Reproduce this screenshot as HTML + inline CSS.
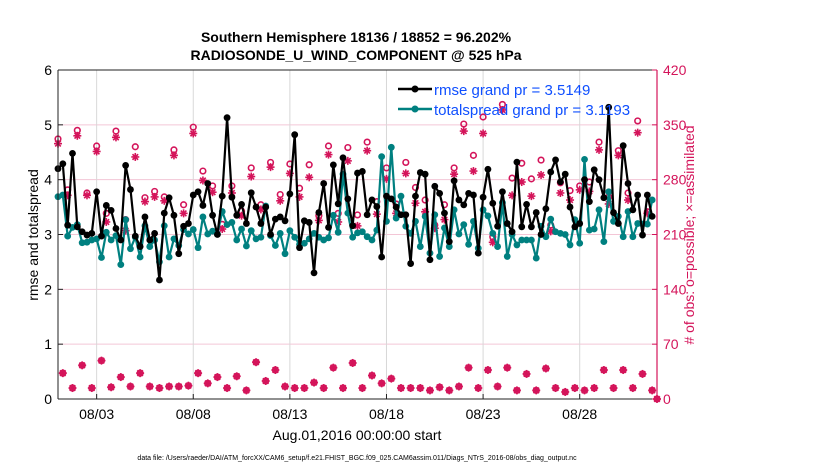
<!DOCTYPE html>
<html><head><meta charset="utf-8"><style>
body{margin:0;background:#fff;}
svg{display:block;font-family:"Liberation Sans",sans-serif;}
</style></head><body>
<svg id="chart" width="830" height="470" xmlns="http://www.w3.org/2000/svg">
<g id="grid"></g>
<g id="marks"></g>
<g id="axes"></g>
<text x="356" y="42" text-anchor="middle" font-size="14" font-weight="bold">Southern Hemisphere 18136 / 18852 = 96.202%</text>
<text x="356" y="60" text-anchor="middle" font-size="14" font-weight="bold">RADIOSONDE_U_WIND_COMPONENT @ 525 hPa</text>
<text x="357" y="440" text-anchor="middle" font-size="14">Aug.01,2016 00:00:00 start</text>
<text transform="translate(38,235) rotate(-90)" text-anchor="middle" font-size="14">rmse and totalspread</text>
<text transform="translate(694,235) rotate(-90)" text-anchor="middle" font-size="14" fill="#d4145a"># of obs: o=possible; ×=assimilated</text>
<text x="357" y="460" text-anchor="middle" font-size="7">data file: /Users/raeder/DAI/ATM_forcXX/CAM6_setup/f.e21.FHIST_BGC.f09_025.CAM6assim.011/Diags_NTrS_2016-08/obs_diag_output.nc</text>
<g>
<line x1="398" y1="89" x2="432" y2="89" stroke="#000" stroke-width="2.5"/><circle cx="415" cy="89" r="3.5" fill="#000"/>
<text x="434" y="95" font-size="15" fill="#0f4fff">rmse grand pr = 3.5149</text>
<line x1="398" y1="109" x2="432" y2="109" stroke="#008080" stroke-width="2.5"/><circle cx="415" cy="109" r="3.5" fill="#008080"/>
<text x="434" y="115" font-size="15" fill="#0f4fff">totalspread grand pr = 3.1193</text>
</g>
</svg>
<script>
const rmse=[4.20,4.29,3.17,4.48,3.14,3.05,2.99,3.02,3.78,2.97,3.53,3.44,3.11,2.90,4.26,3.82,2.97,2.78,3.32,2.90,3.02,2.17,3.39,3.67,3.35,2.65,3.15,3.20,3.72,3.78,3.53,3.93,
3.35,3.00,3.70,5.13,3.68,3.35,3.55,3.20,3.76,3.50,3.20,3.50,3.00,3.28,3.32,3.25,3.74,4.82,2.76,3.25,3.22,2.30,3.40,3.93,3.13,4.27,3.56,4.40,3.65,3.16,4.12,
4.15,3.36,3.63,3.51,2.59,3.70,3.65,3.50,3.36,3.36,2.47,3.70,4.13,4.10,2.54,3.88,3.75,3.39,2.87,3.98,3.63,3.54,3.75,3.72,2.66,3.68,4.19,3.57,3.15,3.78,
3.20,3.05,4.32,3.14,3.55,3.14,3.40,3.00,3.47,4.14,4.36,3.96,4.10,3.50,3.14,3.20,4.00,3.60,4.18,4.00,3.67,5.32,3.40,3.20,4.62,3.93,3.45,3.72,2.99,3.72,3.33];
const spread=[3.69,3.72,2.97,3.13,3.18,2.85,2.86,2.9,2.92,2.58,3.04,2.9,2.98,2.45,3.27,2.74,2.95,2.59,3.16,2.78,2.9,2.5,3.16,2.59,2.92,2.8,3.09,3.01,3.09,2.76,3.32,3.01,3.06,3.01,3.42,3.18,3.22,2.9,3.1,2.79,3.07,2.92,2.95,3.52,2.98,2.8,3.02,2.65,3.07,2.95,2.82,2.84,2.92,3.02,2.95,2.9,2.94,3.35,3.04,4.1,3.39,2.95,3.03,
3.05,2.96,2.90,3.08,4.42,3.24,4.59,3.30,3.70,3.15,3.02,3.24,2.78,3.33,2.66,3.36,2.60,3.12,2.78,3.45,3.01,3.18,2.82,3.24,2.75,3.45,3.34,3.02,2.78,3.58,2.60,3.00,2.81,2.90,2.90,2.90,2.57,3.15,2.96,3.28,3.05,3.02,3.00,2.81,3.27,2.84,4.37,3.08,3.10,3.45,2.87,3.78,3.24,3.33,2.96,3.42,2.96,3.20,3.19,3.19,3.63];
const obsPossible=[332,33,267,14,343,43,263,14,323,49,237,15,342,28,229,16,322,33,257,16,265,14,258,16,318,16,248,17,347,33,291,20,272,28,223,14,272,29,240,11,295,47,248,23,302,37,261,16,300,14,269,14,299,21,234,14,323,40,237,14,321,46,235,14,
328,30,252,20,295,26,249,14,302,14,270,14,254,11,222,15,248,11,295,16,351,40,311,14,360,37,207,16,376,40,282,11,301,32,281,11,305,39,222,14,276,9,266,14,272,11,277,14,328,37,258,14,317,37,263,14,355,32,239,11,0];
const obsAssim=[326,33,260,14,336,43,260,14,316,49,226,15,334,28,215,16,309,33,252,16,258,14,253,16,311,16,237,17,339,33,279,20,264,28,217,14,263,29,234,11,284,47,242,23,296,37,253,16,288,14,258,14,283,21,228,14,312,40,226,14,304,46,221,14,
317,30,236,20,281,26,237,14,288,14,250,14,239,11,218,15,229,11,287,16,342,40,291,14,339,37,200,16,369,40,260,11,277,32,259,11,286,39,214,14,263,9,254,14,267,11,265,14,318,37,249,14,311,37,254,14,340,32,237,11,0];
const leftTicks=[0,1,2,3,4,5,6];
const rightTicks=[0,70,140,210,280,350,420];
const dateTickDays=[2,7,12,17,22,27];
const dateTickLabels=["08/03","08/08","08/13","08/18","08/23","08/28"];
const stepDays=0.25;

const X0=58,X1=657,Y0=399,Y1=70,D0=0,D1=31;
const xs=d=>X0+(d-D0)/(D1-D0)*(X1-X0);
const yl=v=>Y0-v/6*(Y0-Y1);
const yr=v=>Y0-v/420*(Y0-Y1);
const NS="http://www.w3.org/2000/svg";
const PINK="#d4145a";
function mk(tag,attrs,parent){const e=document.createElementNS(NS,tag);for(const k in attrs)e.setAttribute(k,attrs[k]);parent.appendChild(e);return e;}
const grid=document.getElementById('grid'),marks=document.getElementById('marks'),axes=document.getElementById('axes');

rightTicks.forEach(t=>{if(t>0&&t<420){const l=mk('line',{x1:X0,x2:X1,y1:yr(t),y2:yr(t),stroke:'#f3c6d6','stroke-width':1},grid);

}});
dateTickDays.forEach(d=>{const l=mk('line',{x1:xs(d),x2:xs(d),y1:Y1,y2:Y0,stroke:'#d8d8d8','stroke-width':1},grid);

});

// obs markers
function star(cx,cy,parent){const g=mk('g',{stroke:PINK,'stroke-width':1.6},parent);const r=4;
[[0,r],[r,0],[r*0.7,r*0.7],[r*0.7,-r*0.7]].forEach(p=>mk('line',{x1:cx-p[0],y1:cy-p[1],x2:cx+p[0],y2:cy+p[1]},g));return g;}
obsAssim.forEach((v,i)=>{const g=star(xs(i*stepDays),yr(v),marks);

});
obsPossible.forEach((v,i)=>{const c=mk('circle',{cx:xs(i*stepDays),cy:yr(v),r:2.8,fill:'none',stroke:PINK,'stroke-width':1.6},marks);

});

function series(arr,color,name){
 const pts=arr.map((v,i)=>xs(i*stepDays).toFixed(1)+','+yl(v).toFixed(1)).join(' ');
 const pl=mk('polyline',{points:pts,fill:'none',stroke:color,'stroke-width':2.2,'stroke-linejoin':'round'},marks);
 
 
 arr.forEach((v,i)=>{const c=mk('circle',{cx:xs(i*stepDays),cy:yl(v),r:3.4,fill:color},marks);
 
 });
}
series(spread,'#008080','totalspread');
series(rmse,'#000000','rmse');

// axes
mk('line',{x1:X0,x2:X1,y1:Y0,y2:Y0,stroke:'#222','stroke-width':1},axes);
mk('line',{x1:X0,x2:X1,y1:Y1,y2:Y1,stroke:'#222','stroke-width':1},axes);
mk('line',{x1:X0,x2:X0,y1:Y1,y2:Y0,stroke:'#222','stroke-width':1},axes);
mk('line',{x1:X1,x2:X1,y1:Y1,y2:Y0,stroke:PINK,'stroke-width':1.2},axes);
leftTicks.forEach(t=>{mk('line',{x1:X0,x2:X0+5,y1:yl(t),y2:yl(t),stroke:'#222'},axes);
 const tx=mk('text',{x:X0-6,y:yl(t)+5,'text-anchor':'end','font-size':14},axes);tx.textContent=t;
 
 });
rightTicks.forEach(t=>{mk('line',{x1:X1-5,x2:X1,y1:yr(t),y2:yr(t),stroke:PINK},axes);
 const tx=mk('text',{x:X1+6,y:yr(t)+5,'font-size':14,fill:PINK},axes);tx.textContent=t;
 
 });
dateTickDays.forEach((d,i)=>{mk('line',{x1:xs(d),x2:xs(d),y1:Y0,y2:Y0-5,stroke:'#222'},axes);
 const tx=mk('text',{x:xs(d),y:Y0+20,'text-anchor':'middle','font-size':14},axes);tx.textContent=dateTickLabels[i];
 
 });
</script>
</body></html>
